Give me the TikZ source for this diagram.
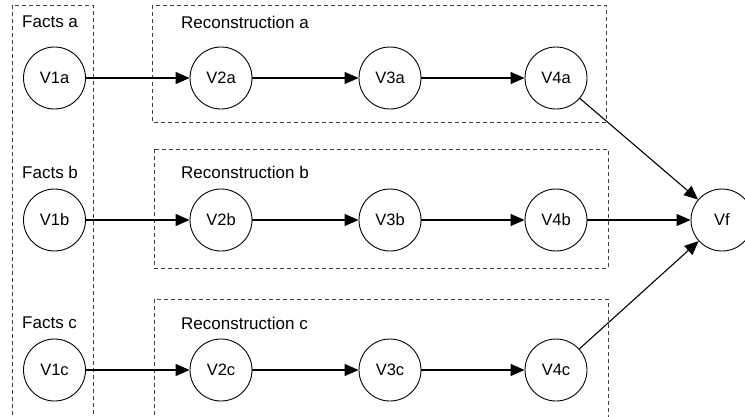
\documentclass[tikz,border=0pt]{standalone}
\usepackage{fontspec}
\setmainfont{Liberation Sans}
\usetikzlibrary{arrows.meta}
\begin{document}
\begin{tikzpicture}[x=1pt,y=-1pt,
  var/.style={circle,draw,line width=0.9pt,minimum size=62pt,inner sep=0pt,font=\fontsize{16.5}{18}\selectfont},
  grp/.style={draw=black!75,dashed,dash pattern=on 4pt off 3pt,line width=0.9pt},
  lbl/.style={anchor=west,inner sep=0pt,font=\fontsize{17}{19}\selectfont},
  link/.style={line width=1.1pt,-{Triangle[length=14pt,width=12pt]}}]
\useasboundingbox (0,0) rectangle (745,416);
% groups
\draw[grp] (12,450) -- (12,5) -- (93,5) -- (93,450);
\draw[grp] (152,5) rectangle (606,122);
\draw[grp] (154,149) rectangle (608,268);
\draw[grp] (154,450) -- (154,299) -- (608,299) -- (608,450);
% labels
\node[lbl] (fa) at (22,22) {Facts a};
\node[lbl] (fb) at (22,172) {Facts b};
\node[lbl] (fc) at (22,323) {Facts c};
\node[lbl] (ra) at (181,22) {Reconstruction a};
\node[lbl] (rb) at (181,172) {Reconstruction b};
\node[lbl] (rc) at (181,323) {Reconstruction c};
% nodes
\foreach \r/\y in {a/78,b/220,c/370}{
  \node[var] (V1\r) at (54.5,\y) {V1\r};
  \node[var] (V2\r) at (221,\y) {V2\r};
  \node[var] (V3\r) at (390,\y) {V3\r};
  \node[var] (V4\r) at (556,\y) {V4\r};
}
\node[var] (Vf) at (722,220) {Vf};
% connectors
\foreach \r in {a,b,c}{
  \draw[link] (V1\r) -- (V2\r);
  \draw[link] (V2\r) -- (V3\r);
  \draw[link] (V3\r) -- (V4\r);
  \draw[link] (V4\r) -- (Vf);
}
\end{tikzpicture}
\end{document}
